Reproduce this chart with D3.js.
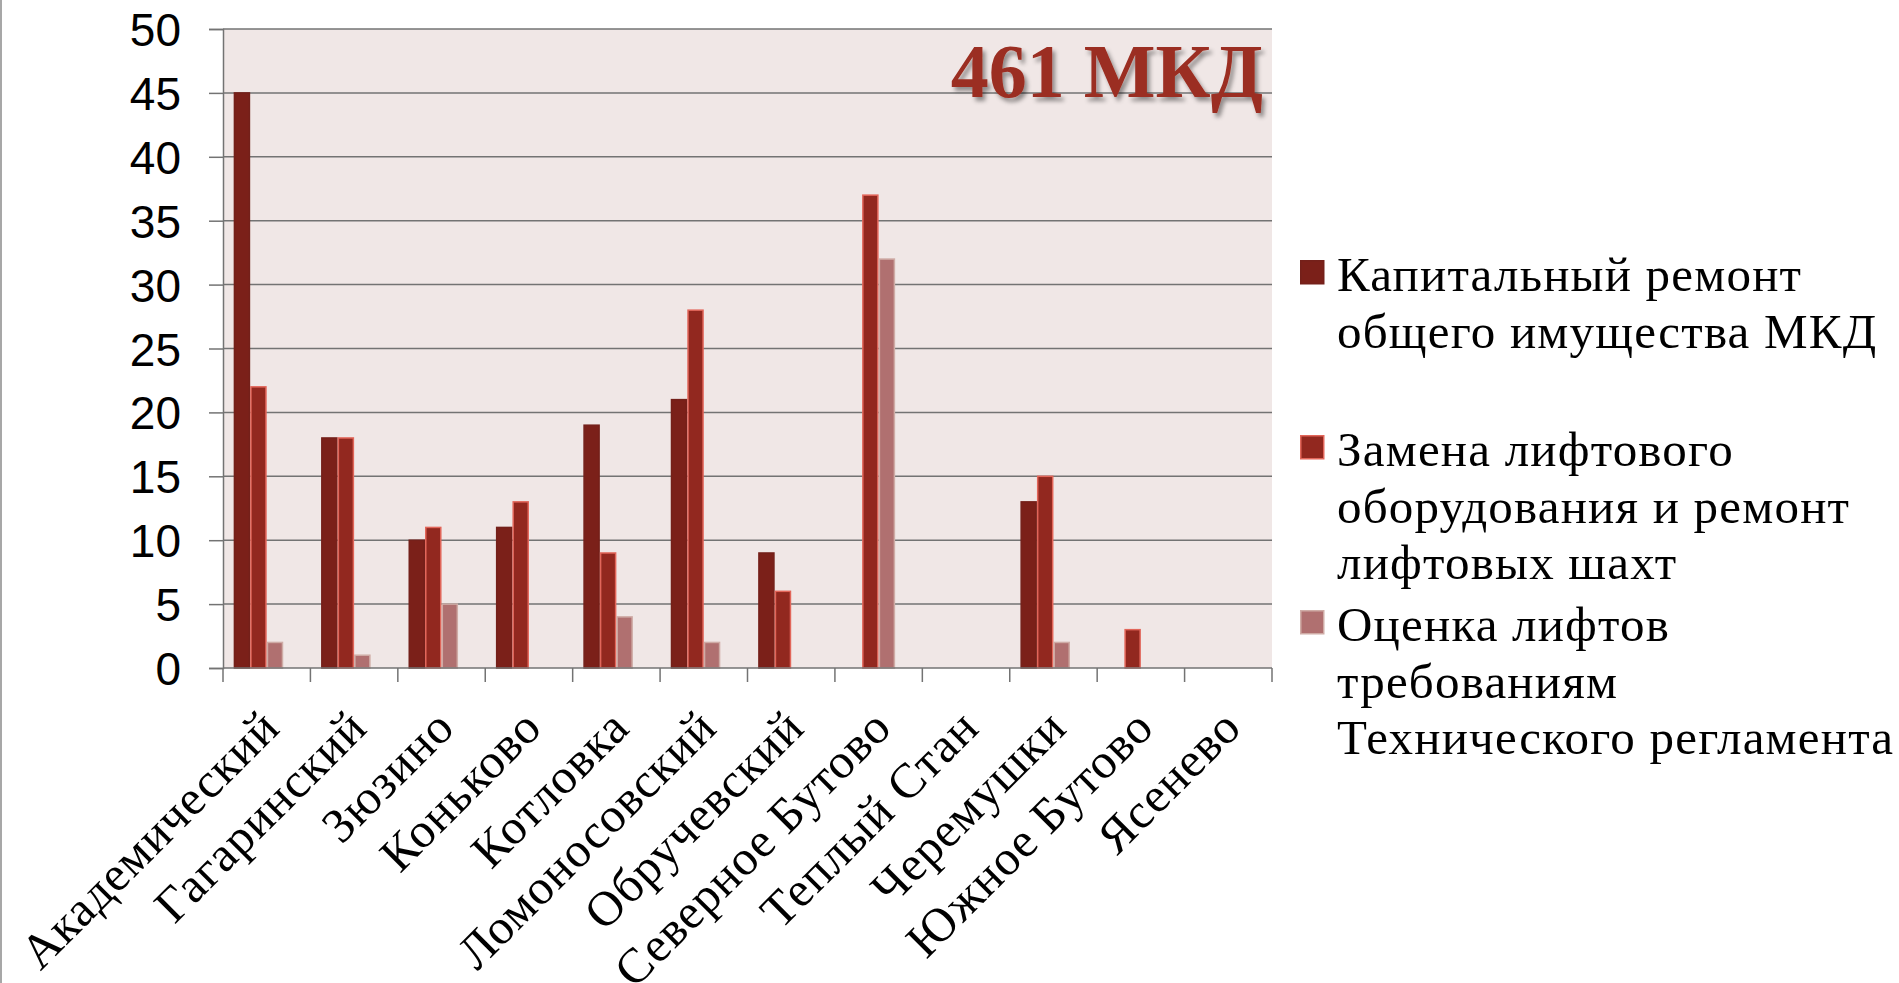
<!DOCTYPE html>
<html>
<head>
<meta charset="utf-8">
<script src="https://cdn.jsdelivr.net/npm/d3@7"></script>
<style>
    body { margin: 0; background: #fff; }
    svg { display: block; }
</style>
</head>
<body>
<script>
// districts on the x axis
var categories = ['Академический', 'Гагаринский', 'Зюзино', 'Коньково', 'Котловка',
    'Ломоносовский', 'Обручевский', 'Северное Бутово', 'Теплый Стан', 'Черемушки',
    'Южное Бутово', 'Ясенево'];

// series values, one per district
var capitalRepair = [45, 18, 10, 11, 19, 21, 9, 0, 0, 13, 0, 0];
var liftReplacement = [22, 18, 11, 13, 9, 28, 6, 37, 0, 15, 3, 0];
var liftAssessment = [2, 1, 5, 0, 4, 2, 0, 32, 0, 2, 0, 0];

// legend labels, already wrapped the way the slide shows them
var seriesLabels = [
    ['Капитальный ремонт', 'общего имущества МКД'],
    ['Замена лифтового', 'оборудования и ремонт', 'лифтовых шахт'],
    ['Оценка лифтов', 'требованиям', 'Технического регламента']
];

var yTicks = [0, 5, 10, 15, 20, 25, 30, 35, 40, 45, 50];
var title = '461 МКД';

var width = 1899,
    height = 983,
    plot = { left: 223, right: 1272, top: 29, bottom: 668 };

var serifFont = '"Liberation Serif", "Times New Roman", serif';

var seriesStyle = [
    { fill: '#7b2019', stroke: '#74201a' },
    { fill: '#92281f', stroke: '#e2665a' },
    { fill: '#b07070', stroke: '#cfaca6' }
];
var seriesValues = [capitalRepair, liftReplacement, liftAssessment];

var svg = d3.select('body').append('svg')
    .attr('width', width)
    .attr('height', height);

var defs = svg.append('defs');
defs.append('filter')
    .attr('id', 'shadow')
    .attr('x', '-10%').attr('y', '-20%')
    .attr('width', '130%').attr('height', '150%')
    .append('feDropShadow')
    .attr('dx', 3).attr('dy', 4)
    .attr('stdDeviation', 2)
    .attr('flood-color', '#000')
    .attr('flood-opacity', 0.4);

// thin frame line on the left edge of the slide
svg.append('line')
    .attr('x1', 1).attr('x2', 1)
    .attr('y1', 0).attr('y2', height)
    .attr('stroke', '#8a8a8a')
    .attr('stroke-width', 1.5);

var x0 = d3.scaleBand()
    .domain(categories)
    .range([plot.left, plot.right])
    .paddingInner(0.244)
    .paddingOuter(0.122);

// four slots per cluster, the last one is an empty series in the source chart
var x1 = d3.scaleBand()
    .domain(d3.range(4))
    .range([0, x0.bandwidth()]);

var y = d3.scaleLinear()
    .domain([0, 50])
    .range([plot.bottom, plot.top]);

svg.append('rect')
    .attr('x', plot.left)
    .attr('y', plot.top)
    .attr('width', plot.right - plot.left)
    .attr('height', plot.bottom - plot.top)
    .attr('fill', '#f0e7e6');

// y axis with gridlines
var yAxis = svg.append('g')
    .attr('class', 'y-axis')
    .attr('transform', 'translate(' + plot.left + ',0)')
    .call(d3.axisLeft(y).tickValues(yTicks).tickSize(14).tickPadding(28));

yAxis.select('.domain').attr('stroke', '#737373').attr('stroke-width', 1.5);
yAxis.selectAll('.tick line').attr('stroke', '#737373').attr('stroke-width', 1.5);
yAxis.selectAll('.tick text')
    .attr('fill', '#000')
    .style('font-family', '"Liberation Sans", Arial, sans-serif')
    .style('font-size', '46px')
    .attr('dy', '0.36em');

svg.append('g')
    .attr('class', 'grid')
    .selectAll('line')
    .data(yTicks.filter(t => t > 0))
    .enter().append('line')
    .attr('x1', plot.left)
    .attr('x2', plot.right)
    .attr('y1', d => y(d))
    .attr('y2', d => y(d))
    .attr('stroke', '#737373')
    .attr('stroke-width', 1.5);

// bars
seriesValues.forEach(function (values, s) {
    svg.append('g')
        .attr('class', 'series-' + s)
        .selectAll('rect')
        .data(categories.map((c, i) => ({ cat: c, value: values[i] })).filter(d => d.value > 0))
        .enter().append('rect')
        .attr('x', d => x0(d.cat) + x1(s) + 0.75)
        .attr('y', d => y(d.value))
        .attr('width', x1.bandwidth() - 1.5)
        .attr('height', d => y(0) - y(d.value))
        .attr('fill', seriesStyle[s].fill)
        .attr('stroke', seriesStyle[s].stroke)
        .attr('stroke-width', 1.5);
});

// x axis: baseline and ticks at the cluster boundaries
var xAxis = svg.append('g').attr('class', 'x-axis');
xAxis.append('line')
    .attr('x1', plot.left).attr('x2', plot.right)
    .attr('y1', y(0)).attr('y2', y(0))
    .attr('stroke', '#737373')
    .attr('stroke-width', 1.5);

var boundaries = categories.map(c => x0(c) - x0.step() * x0.paddingOuter());
boundaries.push(plot.right);
xAxis.selectAll('.tick')
    .data(boundaries)
    .enter().append('line')
    .attr('x1', d => d).attr('x2', d => d)
    .attr('y1', y(0)).attr('y2', y(0) + 14)
    .attr('stroke', '#737373')
    .attr('stroke-width', 1.5);

xAxis.selectAll('text')
    .data(categories)
    .enter().append('text')
    .attr('transform', d => 'translate(' + (x0(d) - x0.step() * x0.paddingOuter() + x0.step() / 2 + 3) + ',' + (y(0) + 50) + ') rotate(-45)')
    .attr('text-anchor', 'end')
    .attr('dy', '0.35em')
    .style('font-family', serifFont)
    .style('font-size', '49px')
    .style('letter-spacing', '0.9px')
    .attr('fill', '#000')
    .text(d => d);

// title inside the plot
svg.append('text')
    .attr('x', 1263)
    .attr('y', 97)
    .attr('text-anchor', 'end')
    .attr('filter', 'url(#shadow)')
    .style('font-family', serifFont)
    .style('font-weight', 'bold')
    .style('font-size', '76px')
    .attr('fill', '#9b2d20')
    .text(title);

// legend
var legend = svg.append('g')
    .attr('class', 'legend')
    .attr('transform', 'translate(1300,260)');

var entry = legend.selectAll('g')
    .data(seriesLabels)
    .enter().append('g')
    .attr('transform', (d, i) => 'translate(0,' + i * 175 + ')');

entry.append('rect')
    .attr('x', 0.75).attr('y', 0.75)
    .attr('width', 23).attr('height', 23)
    .attr('fill', (d, i) => seriesStyle[i].fill)
    .attr('stroke', (d, i) => seriesStyle[i].stroke)
    .attr('stroke-width', 1.5);

entry.append('text')
    .style('font-family', serifFont)
    .style('font-size', '49px')
    .style('letter-spacing', '1.2px')
    .attr('fill', '#000')
    .selectAll('tspan')
    .data(d => d)
    .enter().append('tspan')
    .attr('x', 37)
    .attr('y', (d, i) => 31 + i * 56.5)
    .text(d => d);
</script>
</body>
</html>
